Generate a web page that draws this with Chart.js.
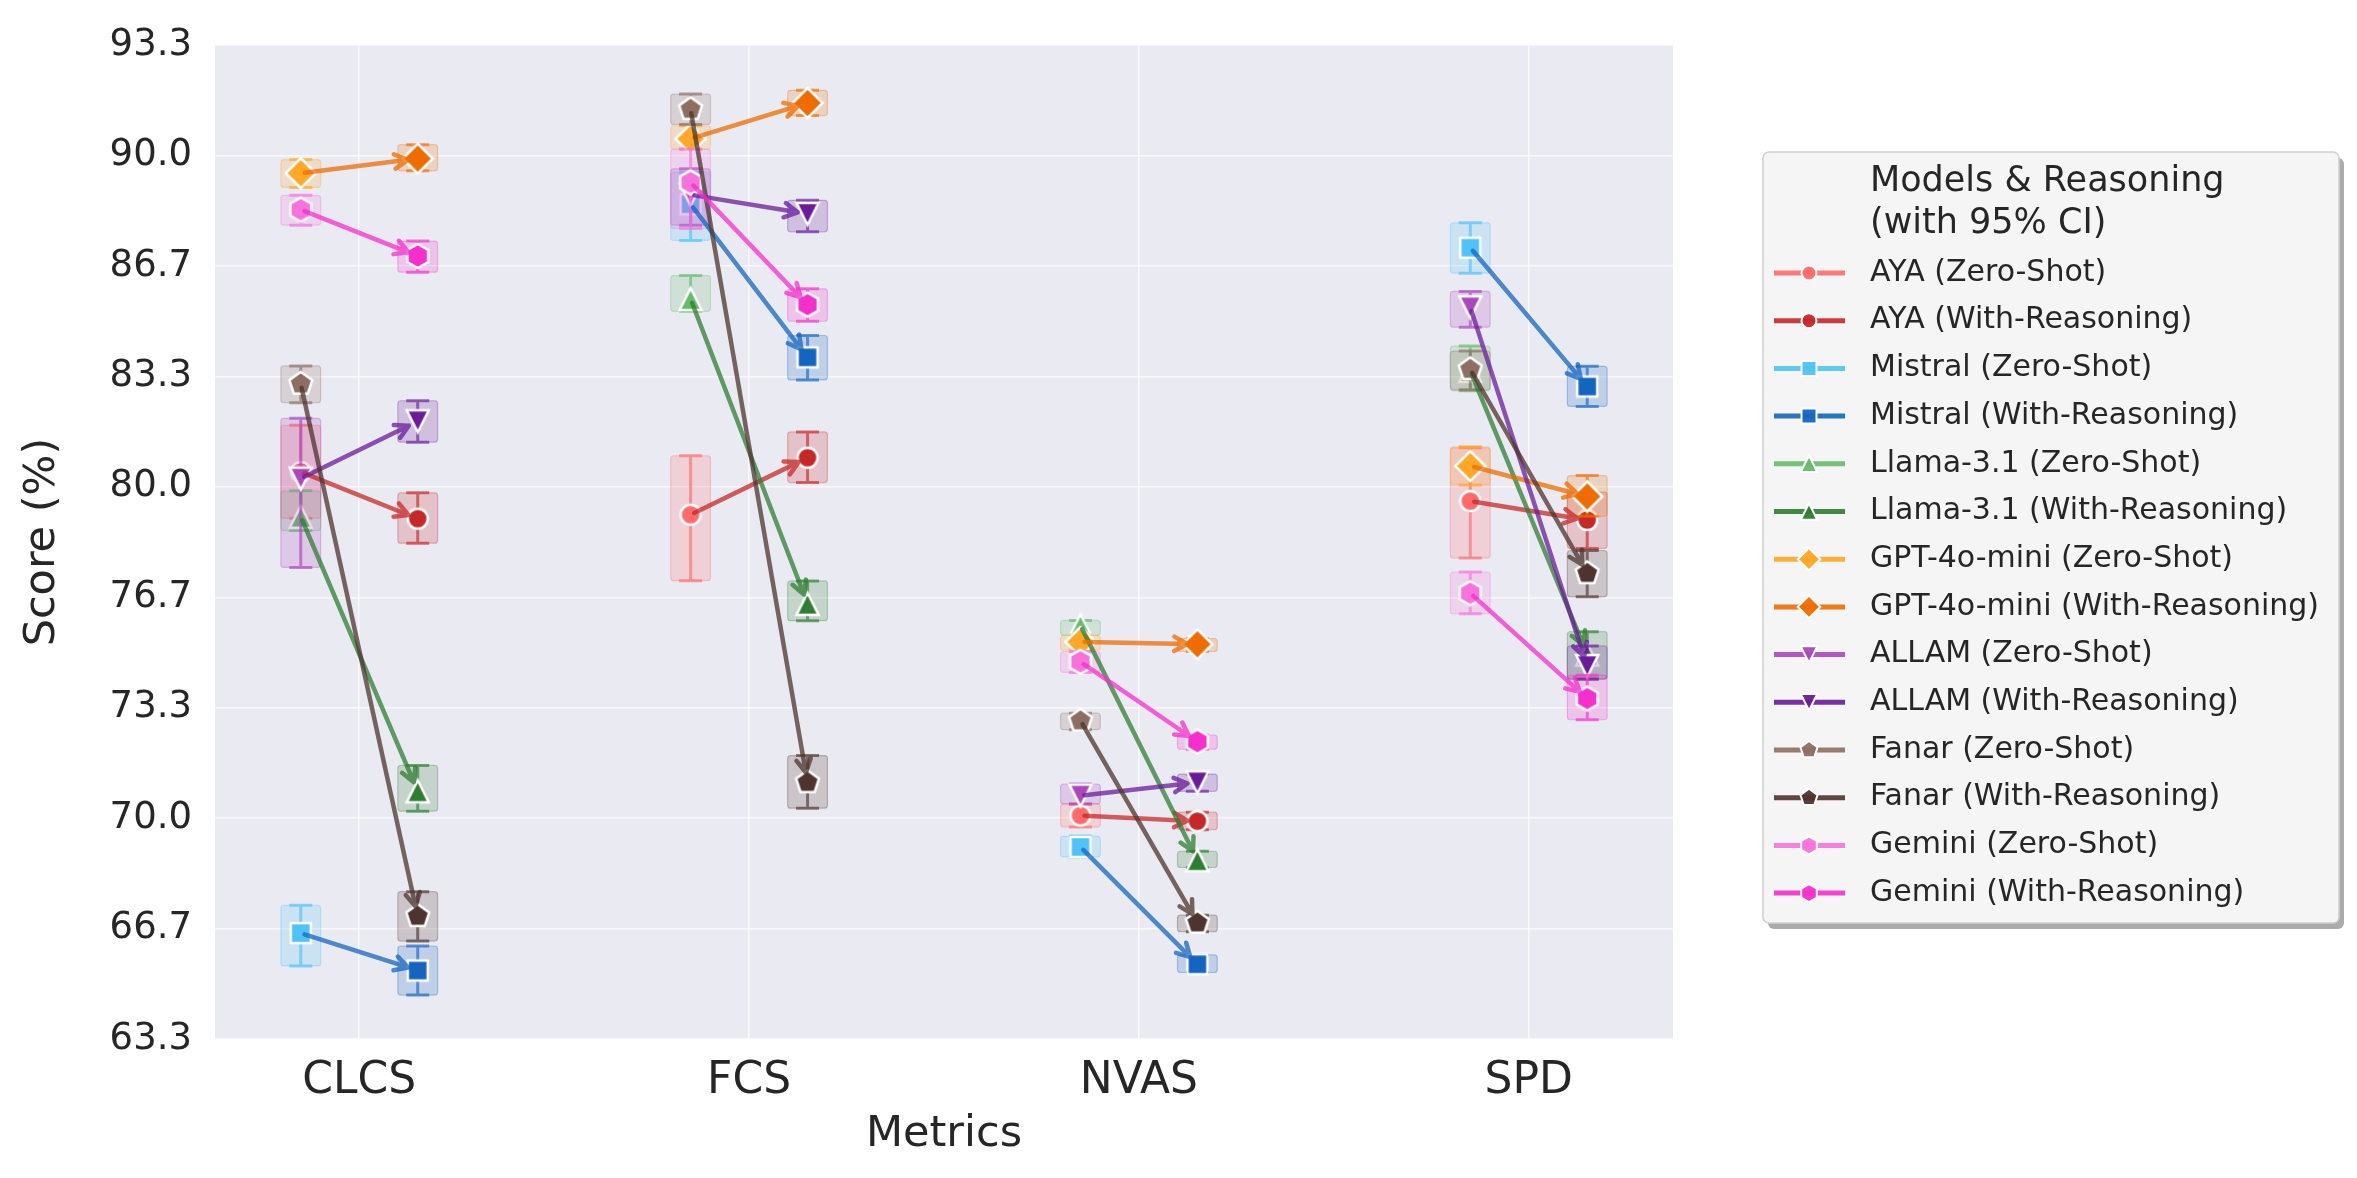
<!DOCTYPE html>
<html>
<head>
<meta charset="utf-8">
<script src="https://cdn.jsdelivr.net/npm/chart.js@4.4.1/dist/chart.umd.min.js"></script>
<style>
  html, body { margin: 0; padding: 0; background: #fff; }
  #wrap { width: 2357px; height: 1178px; }
</style>
</head>
<body>
<div id="wrap"><canvas id="scoreChart" width="2357" height="1178"></canvas></div>
<script>
const categories = ['CLCS', 'FCS', 'NVAS', 'SPD'];
const yTicks = [63.333, 66.667, 70, 73.333, 76.667, 80, 83.333, 86.667, 90, 93.333];
const yTickLabels = ['63.3', '66.7', '70.0', '73.3', '76.7', '80.0', '83.3', '86.7', '90.0', '93.3'];

const models = ['AYA', 'Mistral', 'Llama-3.1', 'GPT-4o-mini', 'ALLAM', 'Fanar', 'Gemini'];
const modes = ['Zero-Shot', 'With-Reasoning'];

// mean score per metric + 95% CI [low, high]
const ayaZs = [80.45, 79.16, 70.08, 79.57];
const ayaZsCi = [[79.05, 81.86], [77.17, 80.94], [69.73, 70.43], [77.85, 81.18]];
const ayaWr = [79.04, 80.88, 69.91, 79.0];
const ayaWrCi = [[78.3, 79.82], [80.13, 81.66], [69.65, 70.18], [78.14, 79.84]];

const mistralZs = [66.53, 88.53, 69.13, 87.22];
const mistralZsCi = [[65.54, 67.37], [87.44, 89.5], [68.83, 69.46], [86.45, 87.97]];
const mistralWr = [65.4, 83.91, 65.59, 83.03];
const mistralWrCi = [[64.66, 66.14], [83.23, 84.57], [65.34, 65.87], [82.43, 83.64]];

const llamaZs = [79.1, 85.67, 75.82, 83.5];
const llamaZsCi = [[78.68, 79.88], [85.3, 86.38], [75.52, 75.97], [82.9, 84.25]];
const llamaWr = [70.81, 76.47, 68.73, 74.94];
const llamaWrCi = [[70.21, 71.59], [75.96, 77.16], [68.51, 69.0], [74.19, 75.63]];

const gptZs = [89.47, 90.51, 75.32, 80.63];
const gptZsCi = [[89.04, 89.88], [90.19, 90.9], [75.07, 75.52], [80.06, 81.21]];
const gptWr = [89.91, 91.59, 75.25, 79.71];
const gptWrCi = [[89.54, 90.33], [91.21, 91.97], [75.03, 75.42], [79.11, 80.34]];

const allamZs = [80.25, 88.82, 70.68, 85.42];
const allamZsCi = [[77.57, 82.07], [87.9, 89.6], [70.43, 71.03], [84.82, 85.9]];
const allamWr = [81.98, 88.24, 71.08, 74.59];
const allamWrCi = [[81.35, 82.6], [87.7, 88.65], [70.81, 71.33], [74.2, 75.2]];

const fanarZs = [83.11, 91.4, 72.94, 83.55];
const fanarZsCi = [[82.54, 83.65], [90.94, 91.86], [72.67, 73.17], [82.93, 84.1]];
const fanarWr = [67.04, 71.08, 66.84, 77.39];
const fanarWrCi = [[66.29, 67.78], [70.3, 71.89], [66.57, 67.07], [76.68, 78.08]];

const geminiZs = [88.37, 89.19, 74.72, 76.79];
const geminiZsCi = [[87.9, 88.8], [87.8, 90.2], [74.4, 75.03], [76.17, 77.43]];
const geminiWr = [86.97, 85.5, 72.31, 73.61];
const geminiWrCi = [[86.48, 87.42], [85.0, 85.98], [72.08, 72.51], [72.97, 74.31]];

// styles
const zsColors = ['#ff6b6b', '#4fc3f7', '#66bb6a', '#ffa726', '#ab47bc', '#8d6e63', '#f772dc'];
const wrColors = ['#c62828', '#1565c0', '#2e7d32', '#ef6c00', '#6a1b9a', '#4e342e', '#f52fcc'];
const shapes = ['circle', 'square', 'triUp', 'diamond', 'triDown', 'pentagon', 'hexagon'];
const shapeSize = { circle: 10, square: 10, triUp: 11, triDown: 11, diamond: 15, pentagon: 12, hexagon: 12 };

const FONT = '"DejaVu Sans", sans-serif';
const TEXT = '#262626';
const OFFSET = 0.15;     // zero-shot left, reasoning right of the category
const BOX_HALF = 0.051;  // CI box half width (x units)
const CAP_HALF = 11.5;   // error bar cap half width (px)

const scores = [[ayaZs, ayaWr], [mistralZs, mistralWr], [llamaZs, llamaWr], [gptZs, gptWr],
                [allamZs, allamWr], [fanarZs, fanarWr], [geminiZs, geminiWr]];
const cis = [[ayaZsCi, ayaWrCi], [mistralZsCi, mistralWrCi], [llamaZsCi, llamaWrCi], [gptZsCi, gptWrCi],
             [allamZsCi, allamWrCi], [fanarZsCi, fanarWrCi], [geminiZsCi, geminiWrCi]];

function rgba(hex, a) {
    const n = parseInt(hex.slice(1), 16);
    return `rgba(${(n >> 16) & 255},${(n >> 8) & 255},${n & 255},${a})`;
}

function shapePath(g, shape, x, y, r) {
    g.beginPath();
    if (shape === 'circle') {
        g.arc(x, y, r, 0, Math.PI * 2);
    } else if (shape === 'square') {
        g.rect(x - r, y - r, 2 * r, 2 * r);
    } else if (shape === 'diamond') {
        g.moveTo(x, y - r); g.lineTo(x + r, y); g.lineTo(x, y + r); g.lineTo(x - r, y);
    } else if (shape === 'triUp') {
        g.moveTo(x, y - r); g.lineTo(x + r, y + r); g.lineTo(x - r, y + r);
    } else if (shape === 'triDown') {
        g.moveTo(x, y + r); g.lineTo(x + r, y - r); g.lineTo(x - r, y - r);
    } else {
        const n = shape === 'pentagon' ? 5 : 6;
        for (let k = 0; k < n; k++) {
            const a = -Math.PI / 2 + k * 2 * Math.PI / n;
            const px = x + r * Math.cos(a), py = y + r * Math.sin(a);
            if (k === 0) g.moveTo(px, py); else g.lineTo(px, py);
        }
    }
    g.closePath();
}

function drawMarker(g, shape, color, x, y, r, edge) {
    shapePath(g, shape, x, y, r);
    g.fillStyle = color;
    g.fill();
    g.lineWidth = edge;
    g.strokeStyle = '#ffffff';
    g.lineJoin = 'miter';
    g.stroke();
}

function markerImage(shape, color) {
    const c = document.createElement('canvas');
    c.width = 48; c.height = 48;
    drawMarker(c.getContext('2d'), shape, color, 24, 24, shapeSize[shape], 2.5);
    return c;
}

// one entry per dataset: model x mode
const series = [];
models.forEach((m, mi) => {
    modes.forEach((mode, k) => {
        series.push({
            label: `${m} (${mode})`,
            color: k === 0 ? zsColors[mi] : wrColors[mi],
            shape: shapes[mi],
            offset: k === 0 ? -OFFSET : OFFSET,
            values: scores[mi][k],
            ci: cis[mi][k]
        });
    });
});

// plot background
const bgPlugin = {
    id: 'plotBg',
    beforeDraw(chart) {
        const { ctx, chartArea: a } = chart;
        ctx.save();
        ctx.fillStyle = '#eaeaf2';
        ctx.fillRect(a.left, a.top, a.right - a.left, a.bottom - a.top);
        ctx.restore();
    }
};

// CI box + error bar under each dataset's markers
const ciPlugin = {
    id: 'ciBoxes',
    beforeDatasetDraw(chart, args) {
        const s = series[args.index];
        const { ctx, scales: { x, y } } = chart;
        ctx.save();
        s.ci.forEach((c, i) => {
            const cx = x.getPixelForValue(i + s.offset);
            const x0 = x.getPixelForValue(i + s.offset - BOX_HALF);
            const x1 = x.getPixelForValue(i + s.offset + BOX_HALF);
            const yLo = y.getPixelForValue(c[0]);
            const yHi = y.getPixelForValue(c[1]);
            ctx.beginPath();
            ctx.roundRect(x0, yHi, x1 - x0, yLo - yHi, 3);
            ctx.fillStyle = rgba(s.color, 0.2);
            ctx.fill();
            ctx.lineWidth = 1.2;
            ctx.strokeStyle = rgba(s.color, 0.3);
            ctx.stroke();

            ctx.strokeStyle = rgba(s.color, 0.65);
            ctx.lineWidth = 3;
            ctx.beginPath();
            ctx.moveTo(cx, yHi); ctx.lineTo(cx, yLo);
            ctx.moveTo(cx - CAP_HALF, yHi); ctx.lineTo(cx + CAP_HALF, yHi);
            ctx.moveTo(cx - CAP_HALF, yLo); ctx.lineTo(cx + CAP_HALF, yLo);
            ctx.stroke();
        });
        ctx.restore();
    }
};

// arrows zero-shot -> with-reasoning
const arrowPlugin = {
    id: 'arrows',
    afterDatasetsDraw(chart) {
        const ctx = chart.ctx;
        ctx.save();
        ctx.lineCap = 'round';
        ctx.lineJoin = 'round';
        models.forEach((m, mi) => {
            const from = chart.getDatasetMeta(mi * 2).data;
            const to = chart.getDatasetMeta(mi * 2 + 1).data;
            ctx.strokeStyle = rgba(wrColors[mi], 0.75);
            ctx.lineWidth = 4.5;
            from.forEach((p0, i) => {
                const p1 = to[i];
                const dx = p1.x - p0.x, dy = p1.y - p0.y;
                const len = Math.hypot(dx, dy);
                const ux = dx / len, uy = dy / len;
                const sx = p0.x + ux * 4, sy = p0.y + uy * 4;
                const tx = p1.x - ux * 10, ty = p1.y - uy * 10;
                const th = Math.atan2(dy, dx);
                const hl = 15, ha = 0.5;
                ctx.beginPath();
                ctx.moveTo(sx, sy);
                ctx.lineTo(tx, ty);
                ctx.moveTo(tx - hl * Math.cos(th - ha), ty - hl * Math.sin(th - ha));
                ctx.lineTo(tx, ty);
                ctx.lineTo(tx - hl * Math.cos(th + ha), ty - hl * Math.sin(th + ha));
                ctx.stroke();
            });
        });
        ctx.restore();
    }
};

// legend box on the right
const legendPlugin = {
    id: 'sideLegend',
    afterDraw(chart) {
        const ctx = chart.ctx;
        const bx = 1763, by = 152, bw = 576, bh = 771;
        ctx.save();
        ctx.fillStyle = 'rgba(0,0,0,0.33)';
        ctx.beginPath();
        ctx.roundRect(bx + 5, by + 6, bw, bh, 6);
        ctx.fill();
        ctx.fillStyle = '#f5f5f5';
        ctx.strokeStyle = '#d0d0d0';
        ctx.lineWidth = 1.5;
        ctx.beginPath();
        ctx.roundRect(bx, by, bw, bh, 6);
        ctx.fill();
        ctx.stroke();

        ctx.fillStyle = TEXT;
        ctx.textAlign = 'left';
        ctx.textBaseline = 'middle';
        ctx.font = '35px ' + FONT;
        ctx.fillText('Models & Reasoning', 1870, 182);
        ctx.fillText('(with 95% CI)', 1870, 224);

        ctx.font = '30px ' + FONT;
        series.forEach((s, i) => {
            const cy = 273 + i * 47.7;
            ctx.strokeStyle = rgba(s.color, 0.9);
            ctx.lineWidth = 5;
            ctx.beginPath();
            ctx.moveTo(1774, cy);
            ctx.lineTo(1845, cy);
            ctx.stroke();
            drawMarker(ctx, s.shape, rgba(s.color, 0.95), 1809, cy, shapeSize[s.shape] * 0.75, 2);
            ctx.fillStyle = TEXT;
            ctx.fillText(s.label, 1870, cy);
        });
        ctx.restore();
    }
};

const datasets = series.map((s, i) => ({
    label: s.label,
    data: s.values.map((v, c) => ({ x: c + s.offset, y: v })),
    pointStyle: markerImage(s.shape, s.color),
    pointRadius: 10,
    showLine: false,
    order: series.length - i
}));

new Chart(document.getElementById('scoreChart').getContext('2d'), {
    type: 'scatter',
    data: { datasets },
    options: {
        responsive: false,
        animation: false,
        devicePixelRatio: 1,
        layout: { padding: { left: 0, top: 37, right: 684, bottom: 0 } },
        plugins: {
            legend: { display: false },
            tooltip: { enabled: false }
        },
        scales: {
            x: {
                type: 'linear',
                min: -0.37,
                max: 3.37,
                afterBuildTicks: scale => { scale.ticks = categories.map((c, i) => ({ value: i })); },
                afterFit: scale => { scale.height = 139; },
                ticks: {
                    callback: v => categories[v],
                    font: { family: FONT, size: 44 },
                    color: TEXT,
                    padding: 16,
                    maxRotation: 0
                },
                grid: { color: 'rgba(255,255,255,0.65)', lineWidth: 1.5, drawTicks: false },
                border: { display: false },
                title: {
                    display: true,
                    text: 'Metrics',
                    font: { family: FONT, size: 43 },
                    color: TEXT,
                    padding: { top: 0, bottom: 17 }
                }
            },
            y: {
                type: 'linear',
                min: yTicks[0],
                max: yTicks[yTicks.length - 1],
                afterBuildTicks: scale => { scale.ticks = yTicks.map(v => ({ value: v })); },
                afterFit: scale => { scale.width = 215; },
                ticks: {
                    callback: (v, i) => yTickLabels[i],
                    font: { family: FONT, size: 37 },
                    color: TEXT,
                    padding: 23
                },
                grid: { color: 'rgba(255,255,255,0.65)', lineWidth: 1.5, drawTicks: false },
                border: { display: false },
                title: {
                    display: true,
                    text: 'Score (%)',
                    font: { family: FONT, size: 43 },
                    color: TEXT,
                    padding: { top: 17, bottom: 0 }
                }
            }
        }
    },
    plugins: [bgPlugin, ciPlugin, arrowPlugin, legendPlugin]
});
</script>
</body>
</html>
